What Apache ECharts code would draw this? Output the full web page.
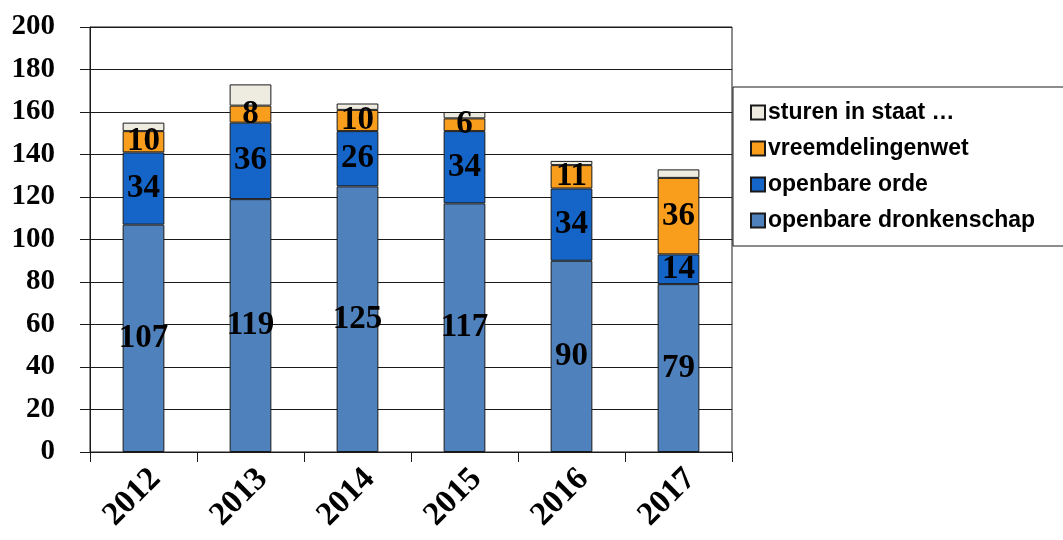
<!DOCTYPE html>
<html>
<head>
<meta charset="utf-8">
<script src="https://cdn.jsdelivr.net/npm/echarts@6/dist/echarts.min.js"></script>
<style>html,body{margin:0;padding:0;background:#fff}#c{width:1063px;height:540px}</style>
</head>
<body>
<div id="c"></div>
<script>
const years = ['2012', '2013', '2014', '2015', '2016', '2017'];
const dronkenschap = [107, 119, 125, 117, 90, 79];
const orde = [34, 36, 26, 34, 34, 14];
const vreemdelingenwet = [10, 8, 10, 6, 11, 36];
const sturen = [4, 10, 3, 3, 2, 4];
const seriesNames = ['openbare dronkenschap', 'openbare orde', 'vreemdelingenwet', 'sturen in staat \u2026'];
const yTicks = [0, 20, 40, 60, 80, 100, 120, 140, 160, 180, 200];

const labelStyle = {
  show: true, position: 'inside', color: '#000',
  fontFamily: 'Liberation Serif', fontWeight: 'bold', fontSize: 33
};
const border = { borderColor: '#1a1a1a', borderWidth: 1 };

function mk(name, data, color, showLabel) {
  return {
    name: name, type: 'bar', stack: 'a', data: data, barWidth: '39%',
    itemStyle: Object.assign({ color: color }, border),
    label: showLabel ? labelStyle : { show: false }
  };
}

const chart = echarts.init(document.getElementById('c'), null, { renderer: 'canvas' });
chart.setOption({
  animation: false,
  backgroundColor: '#fff',
  grid: { left: 90, right: 331, top: 27, bottom: 88, show: true, borderColor: '#1a1a1a', borderWidth: 1 },
  legend: {
    orient: 'vertical', left: 733, top: 87,
    data: [seriesNames[3], seriesNames[2], seriesNames[1], seriesNames[0]],
    backgroundColor: '#fff', borderColor: '#1a1a1a', borderWidth: 1,
    padding: [14, 40, 14, 17],
    itemWidth: 14, itemHeight: 14, itemGap: 13, icon: 'rect',
    textStyle: { fontFamily: 'Liberation Sans', fontWeight: 'bold', fontSize: 23, color: '#000', padding: [0, 0, 0, -2] }
  },
  xAxis: {
    type: 'category', data: years,
    axisLine: { lineStyle: { color: '#1a1a1a' } },
    axisTick: { show: true, length: 10, lineStyle: { color: '#1a1a1a' } },
    axisLabel: {
      rotate: 45, margin: 34, color: '#000', padding: [0, -17, 0, 0],
      fontFamily: 'Liberation Serif', fontWeight: 'bold', fontSize: 33
    }
  },
  yAxis: {
    type: 'value', min: 0, max: 200, interval: 20,
    axisLine: { show: true, lineStyle: { color: '#1a1a1a' } },
    axisTick: { show: true, inside: false, length: 10, lineStyle: { color: '#1a1a1a', width: 1 } },
    splitLine: { lineStyle: { color: '#1a1a1a', width: 1 } },
    axisLabel: {
      margin: 35, color: '#000',
      fontFamily: 'Liberation Serif', fontWeight: 'bold', fontSize: 29,
      formatter: function (v) { return yTicks.indexOf(v) >= 0 ? String(v) : ''; }
    }
  },
  series: [
    mk(seriesNames[0], dronkenschap, '#4F81BD', true),
    mk(seriesNames[1], orde, '#1565C9', true),
    mk(seriesNames[2], vreemdelingenwet, '#F99D1C', true),
    mk(seriesNames[3], sturen, '#EEECE1', false)
  ]
});
</script>
</body>
</html>
